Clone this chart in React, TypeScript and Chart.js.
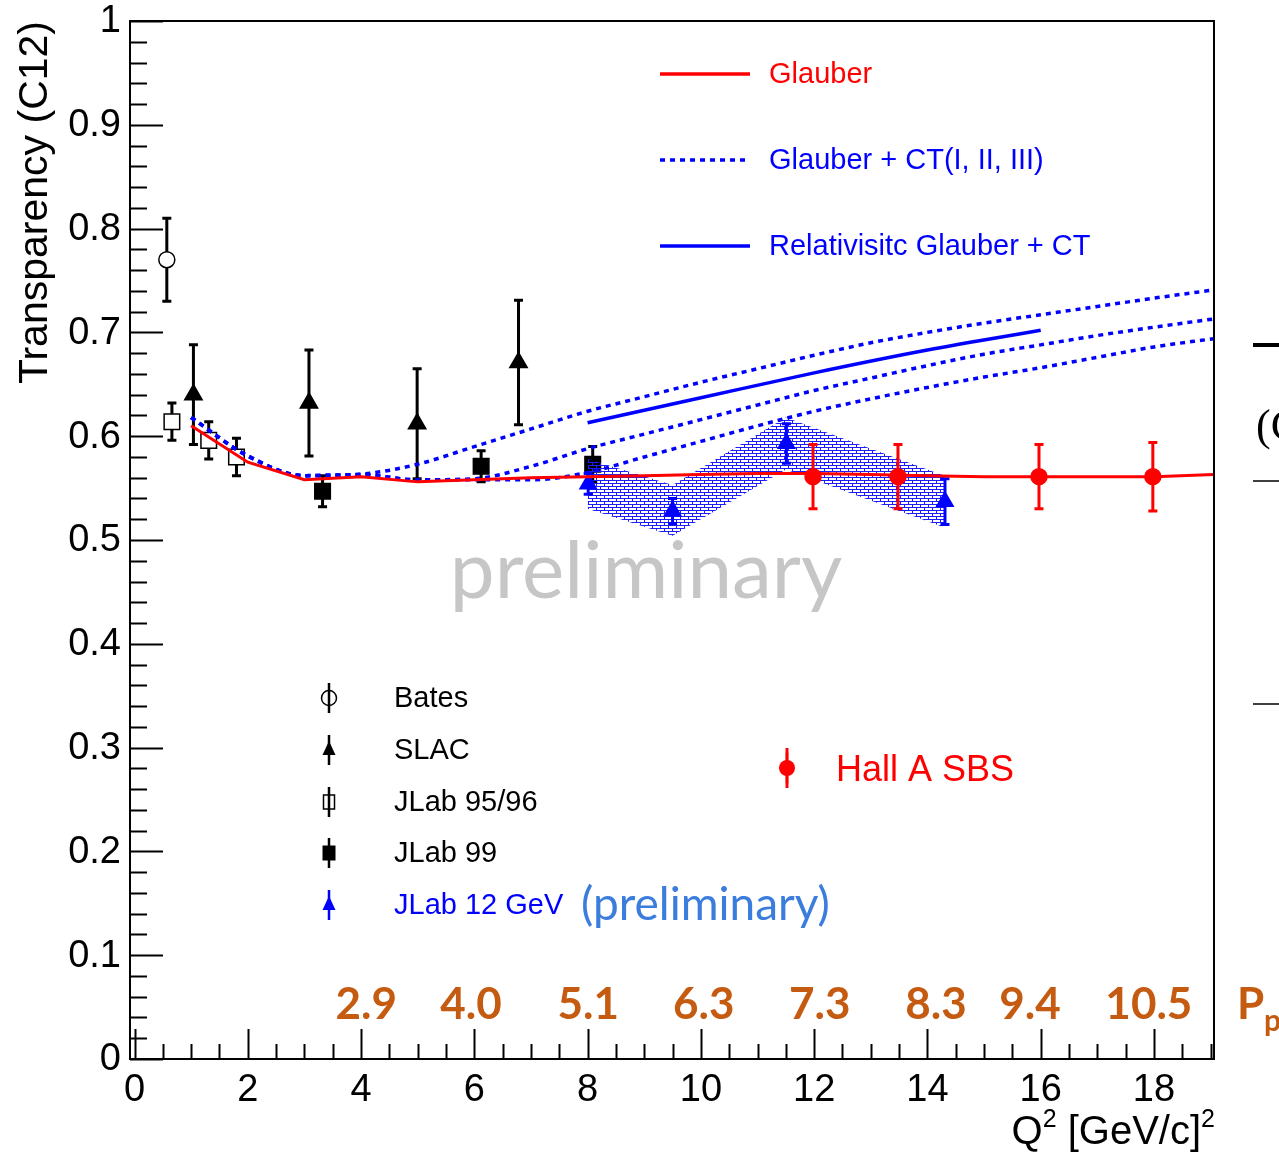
import React, { useEffect, useRef } from "react";
import { Chart, registerables } from "chart.js";

Chart.register(...registerables);

// ---------------- axes ----------------
const X_MIN = -0.08;
const X_MAX = 19.06;
const Y_MIN = 0;
const Y_MAX = 1;
const X_TICKS = [0, 2, 4, 6, 8, 10, 12, 14, 16, 18];
const X_TICK_LABELS = ["0", "2", "4", "6", "8", "10", "12", "14", "16", "18"];
const X_MINOR_STEP = 0.5;
const Y_TICKS = [0, 0.1, 0.2, 0.3, 0.4, 0.5, 0.6, 0.7, 0.8, 0.9, 1];
const Y_TICK_LABELS = ["0", "0.1", "0.2", "0.3", "0.4", "0.5", "0.6", "0.7", "0.8", "0.9", "1"];
const Y_MINOR_STEP = 0.02;
const X_TITLE = [{ t: "Q" }, { t: "2", sup: true }, { t: " [GeV/c]" }, { t: "2", sup: true }];
const Y_TITLE = "Transparency (C12)";

// proton momentum labels (GeV/c) placed at their Q^2
const PP_Q2 = [4.09, 5.94, 8.01, 10.05, 12.1, 14.15, 15.81, 17.91];
const PP_LABELS = ["2.9", "4.0", "5.1", "6.3", "7.3", "8.3", "9.4", "10.5"];

// ---------------- data ----------------
const BATES_Q2 = [0.57];
const BATES_T = [0.770];
const BATES_ERR = [0.040];

const SLAC_Q2 = [1.04, 3.08, 4.99, 6.78];
const SLAC_T = [0.640, 0.632, 0.612, 0.671];
const SLAC_ERR = [0.048, 0.051, 0.053, 0.060];

const JLAB9596_Q2 = [0.66, 1.31, 1.80];
const JLAB9596_T = [0.614, 0.596, 0.580];
const JLAB9596_ERR = [0.018, 0.018, 0.018];

const JLAB99_Q2 = [3.32, 6.12, 8.09];
const JLAB99_T = [0.547, 0.571, 0.573];
const JLAB99_ERR = [0.015, 0.015, 0.017];

const JLAB12_Q2 = [8.01, 9.50, 11.51, 14.31];
const JLAB12_T = [0.554, 0.528, 0.593, 0.537];
const JLAB12_ERR = [0.010, 0.012, 0.019, 0.022];

const BAND_Q2 = [8.0, 9.5, 11.5, 14.3];
const BAND_UPPER = [0.578, 0.553, 0.618, 0.562];
const BAND_LOWER = [0.530, 0.504, 0.568, 0.512];

const HALLA_Q2 = [11.98, 13.48, 15.97, 17.98];
const HALLA_T = [0.561, 0.561, 0.561, 0.561];
const HALLA_ERR = [0.031, 0.031, 0.031, 0.033];

const GLAUBER_Q2 = [1.0, 2.0, 3.0, 4.0, 5.0, 6.0, 7.0, 8.0, 9.0, 10.0, 11.0, 12.0, 13.0, 14.0, 15.0, 16.0, 17.0, 18.0, 19.06];
const GLAUBER_T = [0.610, 0.575, 0.558, 0.561, 0.556, 0.558, 0.560, 0.561, 0.562, 0.563, 0.564, 0.564, 0.563, 0.562, 0.561, 0.561, 0.561, 0.561, 0.563];

const CT_Q2 = [1.0, 2.0, 3.0, 4.0, 5.0, 6.0, 7.0, 8.0, 9.0, 10.0, 11.0, 12.0, 13.0, 14.0, 15.0, 16.0, 17.0, 18.0, 19.06];
const CT1_T = [0.618, 0.581, 0.562, 0.5635, 0.573, 0.590, 0.607, 0.624, 0.638, 0.652, 0.665, 0.678, 0.690, 0.700, 0.709, 0.717, 0.725, 0.733, 0.741];
const CT2_T = [0.618, 0.581, 0.562, 0.563, 0.558, 0.559, 0.571, 0.588, 0.602, 0.616, 0.630, 0.644, 0.656, 0.668, 0.679, 0.688, 0.697, 0.705, 0.713];
const CT3_T = [0.618, 0.581, 0.562, 0.563, 0.558, 0.558, 0.558, 0.565, 0.580, 0.595, 0.610, 0.624, 0.636, 0.647, 0.657, 0.666, 0.676, 0.686, 0.694];

const REL_Q2 = [8.0, 10.0, 12.0, 14.0, 16.0];
const REL_T = [0.613, 0.637, 0.661, 0.683, 0.702];

// ---------------- legends ----------------
const THEORY_LEGEND = ["Glauber", "Glauber + CT(I, II, III)", "Relativisitc Glauber + CT"];
const DATA_LEGEND = ["Bates", "SLAC", "JLab 95/96", "JLab 99", "JLab 12 GeV"];

const RED = "#ff0000";
const BLUE = "#0000ff";
const ORANGE = "#c55a11";
const SANS = '"Liberation Sans", Arial, Helvetica, sans-serif';

const pts = (xs: number[], ys: number[]) => xs.map((x, i) => ({ x, y: ys[i] }));

const errorBarPlugin = {
  id: "errorBars",
  beforeDatasetDraw(chart: any, args: any) {
    const ds = chart.data.datasets[args.index];
    if (!ds.errors) return;
    const { ctx } = chart;
    const xs = chart.scales.x;
    const ys = chart.scales.y;
    ctx.save();
    ctx.strokeStyle = ds.errColor;
    ctx.lineWidth = 3;
    ds.data.forEach((p: any, i: number) => {
      const px = xs.getPixelForValue(p.x);
      const y1 = ys.getPixelForValue(p.y + ds.errors[i]);
      const y2 = ys.getPixelForValue(p.y - ds.errors[i]);
      ctx.beginPath();
      ctx.moveTo(px, y1);
      ctx.lineTo(px, y2);
      ctx.moveTo(px - 4.5, y1);
      ctx.lineTo(px + 4.5, y1);
      ctx.moveTo(px - 4.5, y2);
      ctx.lineTo(px + 4.5, y2);
      ctx.stroke();
    });
    ctx.restore();
  },
};

function drawMarker(ctx: CanvasRenderingContext2D, kind: string, x: number, y: number, color: string) {
  ctx.save();
  ctx.strokeStyle = color;
  ctx.fillStyle = color;
  ctx.lineWidth = 2.5;
  ctx.beginPath();
  ctx.moveTo(x, y - 15);
  ctx.lineTo(x, y + 15);
  ctx.stroke();
  ctx.lineWidth = 1.5;
  if (kind === "openCircle") {
    ctx.beginPath();
    ctx.arc(x, y, 7.5, 0, Math.PI * 2);
    ctx.stroke();
  } else if (kind === "triangle") {
    ctx.beginPath();
    ctx.moveTo(x, y - 9);
    ctx.lineTo(x + 6.5, y + 5);
    ctx.lineTo(x - 6.5, y + 5);
    ctx.closePath();
    ctx.fill();
  } else if (kind === "openSquare") {
    ctx.strokeRect(x - 5.5, y - 7, 11, 14);
  } else if (kind === "square") {
    ctx.fillRect(x - 6.5, y - 7.5, 13, 15);
  } else if (kind === "dot") {
    ctx.lineWidth = 3;
    ctx.beginPath();
    ctx.moveTo(x, y - 20);
    ctx.lineTo(x, y + 20);
    ctx.stroke();
    ctx.beginPath();
    ctx.arc(x, y, 8, 0, Math.PI * 2);
    ctx.fill();
  }
  ctx.restore();
}

const decorPlugin = {
  id: "rootDecor",
  afterDraw(chart: any) {
    const { ctx, chartArea } = chart;
    const { left, right, top, bottom } = chartArea;
    const xs = chart.scales.x;
    const ys = chart.scales.y;
    ctx.save();

    // frame
    ctx.strokeStyle = "#000";
    ctx.lineWidth = 2;
    ctx.strokeRect(left, top, right - left, bottom - top);

    // y ticks
    ctx.lineWidth = 2;
    const nY = Math.round((Y_MAX - Y_MIN) / Y_MINOR_STEP);
    for (let i = 0; i <= nY; i++) {
      const v = Y_MIN + i * Y_MINOR_STEP;
      const major = i % 5 === 0;
      const py = Math.round(ys.getPixelForValue(v)) + 0.5;
      ctx.beginPath();
      ctx.moveTo(left, py);
      ctx.lineTo(left + (major ? 33 : 17), py);
      ctx.stroke();
    }
    // x ticks
    const nX = Math.floor(X_MAX / X_MINOR_STEP);
    for (let i = 0; i <= nX; i++) {
      const v = i * X_MINOR_STEP;
      const major = i % 4 === 0;
      const px = Math.round(xs.getPixelForValue(v)) + 0.5;
      ctx.beginPath();
      ctx.moveTo(px, bottom);
      ctx.lineTo(px, bottom - (major ? 30 : 15));
      ctx.stroke();
    }

    // tick labels
    ctx.fillStyle = "#000";
    ctx.font = `38px ${SANS}`;
    ctx.textAlign = "right";
    ctx.textBaseline = "middle";
    Y_TICKS.forEach((v, i) => ctx.fillText(Y_TICK_LABELS[i], left - 9, ys.getPixelForValue(v) + 1));
    ctx.textAlign = "center";
    X_TICKS.forEach((v, i) => ctx.fillText(X_TICK_LABELS[i], xs.getPixelForValue(v), bottom + 32));

    // y title
    ctx.save();
    ctx.translate(36, 21);
    ctx.rotate(-Math.PI / 2);
    ctx.font = `41px ${SANS}`;
    ctx.textAlign = "right";
    ctx.textBaseline = "middle";
    ctx.fillText(Y_TITLE, 0, 0);
    ctx.restore();

    // x title with superscripts
    {
      const size = 40;
      const fMain = `${size}px ${SANS}`;
      const fSup = `${Math.round(size * 0.62)}px ${SANS}`;
      let total = 0;
      const widths = X_TITLE.map((p: any) => {
        ctx.font = p.sup ? fSup : fMain;
        const w = ctx.measureText(p.t).width;
        total += w;
        return w;
      });
      let x = right + 1 - total;
      const base = 1144;
      ctx.textAlign = "left";
      ctx.textBaseline = "alphabetic";
      X_TITLE.forEach((p: any, i: number) => {
        ctx.font = p.sup ? fSup : fMain;
        ctx.fillText(p.t, x, p.sup ? base - size * 0.42 : base);
        x += widths[i];
      });
    }

    // momentum labels
    ctx.fillStyle = ORANGE;
    ctx.font = `bold 44px Lato, "Open Sans", sans-serif`;
    ctx.textAlign = "center";
    ctx.textBaseline = "alphabetic";
    PP_Q2.forEach((q, i) => ctx.fillText(PP_LABELS[i], xs.getPixelForValue(q), bottom - 40));
    ctx.textAlign = "left";
    ctx.fillText("P", 1237, bottom - 40);
    ctx.font = `bold 30px Lato, "Open Sans", sans-serif`;
    ctx.fillText("p", 1264, bottom - 28);

    // theory legend
    const legY = [74, 160, 246];
    const legColors = [RED, BLUE, BLUE];
    ctx.lineWidth = 3.5;
    legY.forEach((y, i) => {
      ctx.strokeStyle = legColors[i];
      ctx.setLineDash(i === 1 ? [5, 5] : []);
      ctx.beginPath();
      ctx.moveTo(660, y);
      ctx.lineTo(750, y);
      ctx.stroke();
    });
    ctx.setLineDash([]);
    ctx.font = `29px ${SANS}`;
    ctx.textBaseline = "middle";
    ctx.textAlign = "left";
    legY.forEach((y, i) => {
      ctx.fillStyle = legColors[i];
      ctx.fillText(THEORY_LEGEND[i], 769, y + 1);
    });

    // data legend
    const dY = [698, 750, 802, 853, 905];
    const kinds = ["openCircle", "triangle", "openSquare", "square", "triangle"];
    const dColors = ["#000", "#000", "#000", "#000", BLUE];
    dY.forEach((y, i) => {
      drawMarker(ctx, kinds[i], 329, y, dColors[i]);
      ctx.fillStyle = dColors[i];
      ctx.font = `29px ${SANS}`;
      ctx.textAlign = "left";
      ctx.textBaseline = "middle";
      ctx.fillText(DATA_LEGEND[i], 394, y + 1);
    });
    // Hall A legend
    drawMarker(ctx, "dot", 787, 768, RED);
    ctx.fillStyle = RED;
    ctx.font = `36px ${SANS}`;
    ctx.textAlign = "left";
    ctx.textBaseline = "middle";
    ctx.fillText("Hall A SBS", 836, 771);

    // preliminary watermark
    ctx.fillStyle = "#c6c6c6";
    ctx.font = `80px Lato, "Open Sans", sans-serif`;
    ctx.textAlign = "center";
    ctx.textBaseline = "alphabetic";
    ctx.fillText("preliminary", 646, 598);
    ctx.fillStyle = "#3b7ddd";
    ctx.font = `46px Lato, "Open Sans", sans-serif`;
    ctx.textAlign = "left";
    ctx.fillText("(preliminary)", 581, 920);

    // clipped slide remnants at right edge
    ctx.strokeStyle = "#000";
    ctx.lineWidth = 4;
    ctx.beginPath();
    ctx.moveTo(1253, 345);
    ctx.lineTo(1279, 345);
    ctx.stroke();
    ctx.lineWidth = 1.5;
    ctx.beginPath();
    ctx.moveTo(1253, 481);
    ctx.lineTo(1279, 481);
    ctx.moveTo(1253, 704);
    ctx.lineTo(1279, 704);
    ctx.stroke();
    ctx.fillStyle = "#000";
    ctx.font = `44px "Liberation Serif", serif`;
    ctx.textBaseline = "middle";
    ctx.fillText("(C", 1256, 428);

    ctx.restore();
  },
};

export default function App() {
  const ref = useRef<HTMLCanvasElement>(null);

  useEffect(() => {
    const canvas = ref.current!;
    const c2d = canvas.getContext("2d")!;
    const tile = document.createElement("canvas");
    tile.width = 8;
    tile.height = 6;
    const tg = tile.getContext("2d")!;
    tg.fillStyle = "#1c1cff";
    tg.fillRect(0, 0, 8, 1);
    tg.fillRect(0, 3, 8, 1);
    tg.fillRect(0, 0, 1, 3);
    tg.fillRect(4, 3, 1, 3);
    const pattern = c2d.createPattern(tile, "repeat") || "rgba(0,0,255,0.3)";

    const markerDs = (label: string, xsArr: number[], ysArr: number[], errs: number[], style: string, radius: number, color: string, fillColor: string) => ({
      label,
      data: pts(xsArr, ysArr),
      errors: errs,
      errColor: color,
      showLine: false,
      pointStyle: style,
      pointRadius: radius,
      pointHoverRadius: radius,
      pointBackgroundColor: fillColor,
      pointBorderColor: color,
      pointBorderWidth: 1.5,
      borderColor: color,
      backgroundColor: fillColor,
    });
    const lineDs = (label: string, xsArr: number[], ysArr: number[], color: string, width: number, dash: number[], smooth: boolean) => ({
      label,
      data: pts(xsArr, ysArr),
      showLine: true,
      borderColor: color,
      borderWidth: width,
      borderDash: dash,
      pointRadius: 0,
      pointHoverRadius: 0,
      fill: false,
      tension: 0,
      cubicInterpolationMode: smooth ? "monotone" : "default",
    });

    const datasets: any[] = [
      markerDs("Hall A SBS", HALLA_Q2, HALLA_T, HALLA_ERR, "circle", 8, RED, RED),
      lineDs("Glauber", GLAUBER_Q2, GLAUBER_T, RED, 3, [], false),
      lineDs("Relativistic Glauber + CT", REL_Q2, REL_T, BLUE, 3.5, [], true),
      lineDs("Glauber + CT I", CT_Q2, CT1_T, BLUE, 3.5, [5, 5], true),
      lineDs("Glauber + CT II", CT_Q2, CT2_T, BLUE, 3.5, [5, 5], true),
      lineDs("Glauber + CT III", CT_Q2, CT3_T, BLUE, 3.5, [5, 5], true),
      markerDs("JLab 12 GeV", JLAB12_Q2, JLAB12_T, JLAB12_ERR, "triangle", 9.5, BLUE, BLUE),
      {
        label: "band upper",
        data: pts(BAND_Q2, BAND_UPPER),
        showLine: true,
        borderColor: "rgba(0,0,0,0)",
        borderWidth: 1,
        pointRadius: 0,
        pointHoverRadius: 0,
        tension: 0,
        fill: "+1",
        backgroundColor: pattern,
      },
      {
        label: "band lower",
        data: pts(BAND_Q2, BAND_LOWER),
        showLine: true,
        borderColor: "rgba(0,0,0,0)",
        borderWidth: 1,
        pointRadius: 0,
        pointHoverRadius: 0,
        tension: 0,
        fill: false,
      },
      markerDs("JLab 99", JLAB99_Q2, JLAB99_T, JLAB99_ERR, "rect", 11, "#000", "#000"),
      markerDs("JLab 95/96", JLAB9596_Q2, JLAB9596_T, JLAB9596_ERR, "rect", 11, "#000", "#fff"),
      markerDs("SLAC", SLAC_Q2, SLAC_T, SLAC_ERR, "triangle", 10, "#000", "#000"),
      markerDs("Bates", BATES_Q2, BATES_T, BATES_ERR, "circle", 8, "#000", "#fff"),
    ];

    const chart = new Chart(canvas, {
      type: "line",
      data: { datasets },
      options: {
        responsive: false,
        animation: false,
        devicePixelRatio: 1,
        events: [],
        layout: { padding: { top: 21, right: 65, left: 0, bottom: 0 } },
        plugins: { legend: { display: false }, tooltip: { enabled: false } },
        scales: {
          x: {
            type: "linear",
            min: X_MIN,
            max: X_MAX,
            ticks: { display: false },
            grid: { display: false },
            border: { display: false },
            afterFit: (s: any) => {
              s.height = 95;
            },
          },
          y: {
            type: "linear",
            min: Y_MIN,
            max: Y_MAX,
            ticks: { display: false },
            grid: { display: false },
            border: { display: false },
            afterFit: (s: any) => {
              s.width = 130;
            },
          },
        },
      } as any,
      plugins: [errorBarPlugin, decorPlugin],
    });
    return () => chart.destroy();
  }, []);

  return (
    <div style={{ position: "absolute", left: 0, top: 0, width: 1279, height: 1154, background: "#fff" }}>
      <canvas ref={ref} width={1279} height={1154} style={{ display: "block" }} />
    </div>
  );
}
